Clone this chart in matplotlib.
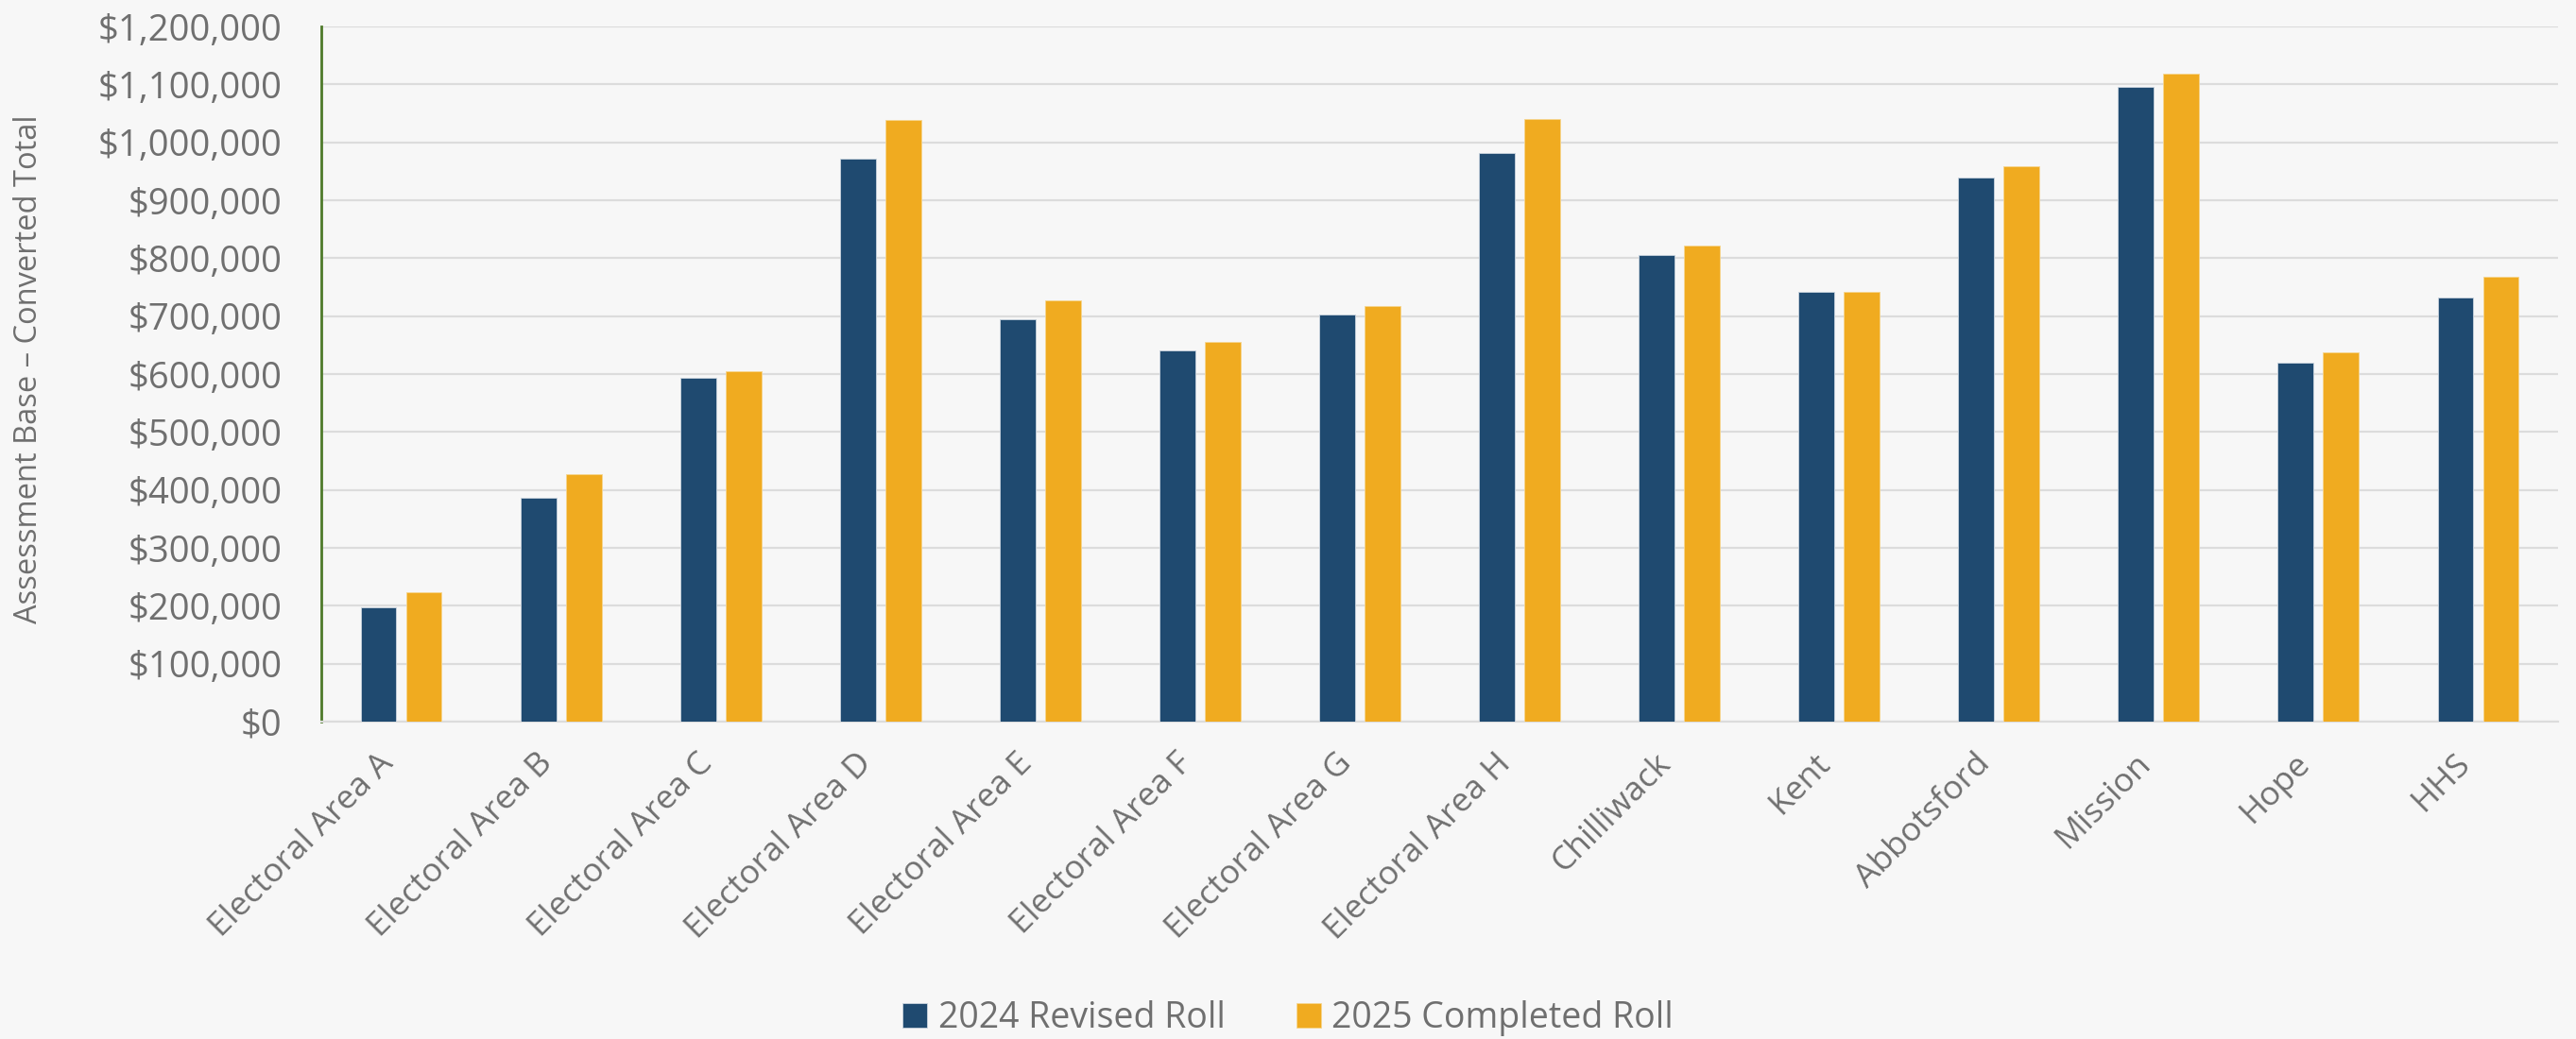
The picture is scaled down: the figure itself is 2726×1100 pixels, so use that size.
import matplotlib
matplotlib.use("Agg")
import matplotlib.pyplot as plt
import matplotlib.ticker as mticker
import matplotlib.transforms as mtransforms
import numpy as np

categories = ["Electoral Area A", "Electoral Area B", "Electoral Area C", "Electoral Area D",
              "Electoral Area E", "Electoral Area F", "Electoral Area G", "Electoral Area H",
              "Chilliwack", "Kent", "Abbotsford", "Mission", "Hope", "HHS"]
roll_2024 = [197000, 386000, 594000, 972000, 694000, 640000, 703000, 981000,
             805000, 742000, 939000, 1095000, 619000, 732000]
roll_2025 = [223000, 427000, 605000, 1039000, 727000, 655000, 718000, 1041000,
             822000, 742000, 958000, 1118000, 637000, 768000]
series_names = ["2024 Revised Roll", "2025 Completed Roll"]
y_ticks = [0, 100000, 200000, 300000, 400000, 500000, 600000, 700000, 800000,
           900000, 1000000, 1100000, 1200000]
y_label = "Assessment Base \u2013 Converted Total"

BLUE = "#1F4A70"
GOLD = "#F0AB20"
TEXT = "#6F6F6F"
GRID = "#DCDCDC"
BG = "#F7F7F7"

plt.rcParams['font.family'] = ['Open Sans', 'DejaVu Sans']

W, H = 2726, 1100
fig = plt.figure(figsize=(W / 100, H / 100), dpi=100, facecolor=BG)
ax = fig.add_axes([340 / W, 1 - 764 / H, (2707 - 340) / W, (764 - 28) / H])
ax.set_facecolor(BG)

x = np.arange(len(categories))
bw = 0.224
off = 0.142
ax.bar(x - off, roll_2024, width=bw, color=BLUE, edgecolor="#C9D3DE", linewidth=0.6,
       label=series_names[0], zorder=3)
ax.bar(x + off, roll_2025, width=bw, color=GOLD, edgecolor="#F6D58E", linewidth=0.6,
       label=series_names[1], zorder=3)

ax.set_xlim(-0.5, len(categories) - 0.5)
ax.set_ylim(0, 1200000)
ax.set_yticks(y_ticks)
ax.yaxis.set_major_formatter(mticker.FuncFormatter(lambda v, p: f"${v:,.0f}"))
ax.grid(axis="y", color=GRID, linewidth=1.6, zorder=0)
ax.set_axisbelow(True)

for s in ["top", "right"]:
    ax.spines[s].set_visible(False)
ax.spines["left"].set_color("#4E7A2A")
ax.spines["left"].set_linewidth(2.0)
ax.spines["bottom"].set_color(GRID)
ax.spines["bottom"].set_linewidth(1.6)

ax.tick_params(axis="y", length=0, pad=30, labelsize=27.5, labelcolor=TEXT)
ax.tick_params(axis="x", length=0, pad=8, labelsize=25.5, labelcolor=TEXT)
ax.set_xticks(x)
ax.set_xticklabels(categories, rotation=45, ha="right", va="top", rotation_mode="anchor")
shift = mtransforms.ScaledTranslation(-26 / 100, -16 / 100, fig.dpi_scale_trans)
for lab in ax.get_xticklabels():
    lab.set_transform(lab.get_transform() + shift)

fig.text(31 / W, 1 - 391 / H, y_label, rotation=90, ha="center", va="center",
         fontsize=23.5, color=TEXT)

leg = fig.legend(loc="center", bbox_to_anchor=(0.5, 1 - 1078 / H), ncol=2, frameon=False,
                 fontsize=27, labelcolor=TEXT, handlelength=0.7, handleheight=0.7,
                 handletextpad=0.3, columnspacing=2.0)

fig.savefig("out.png", dpi=100, facecolor=BG)
